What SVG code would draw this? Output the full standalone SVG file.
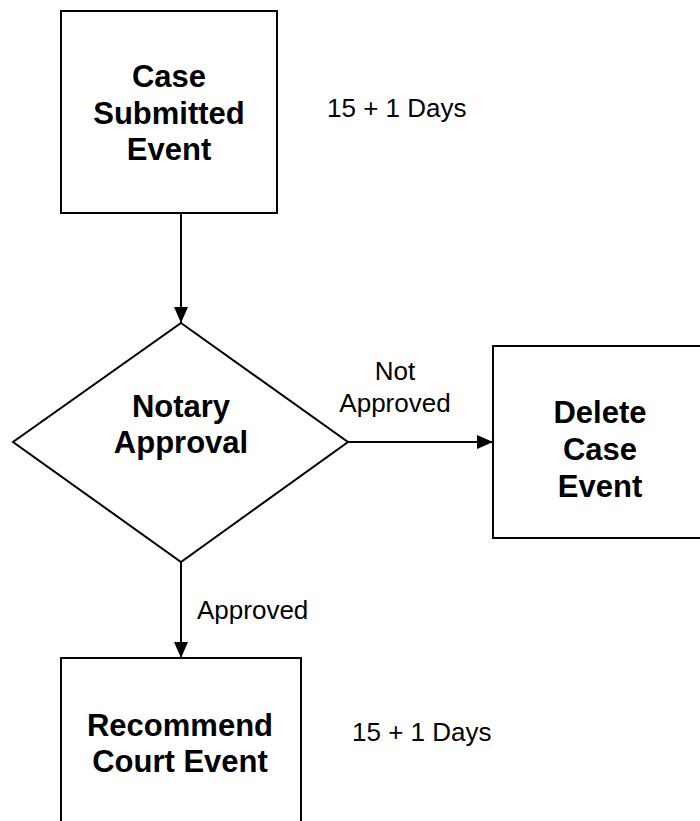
<svg xmlns="http://www.w3.org/2000/svg" width="700" height="821" viewBox="0 0 700 821">
  <style>
    .shape { fill: #ffffff; stroke: #000000; stroke-width: 2; }
    .edge { fill: none; stroke: #000000; stroke-width: 2; }
    .title { font-family: "Liberation Sans", Arial, sans-serif; font-weight: bold; font-size: 31px; text-anchor: middle; fill: #000000; }
    .label { font-family: "Liberation Sans", Arial, sans-serif; font-size: 26px; fill: #000000; }
  </style>
  <defs>
    <marker id="arrow" viewBox="0 0 16 14" refX="16" refY="7" markerWidth="16" markerHeight="14" markerUnits="userSpaceOnUse" orient="auto">
      <path d="M0,0 L16,7 L0,14 Z" fill="#000000"/>
    </marker>
  </defs>
  <rect width="700" height="821" fill="#ffffff"/>

  <!-- connectors -->
  <g id="connectors">
    <line class="edge" x1="181" y1="213" x2="181" y2="323" marker-end="url(#arrow)"/>
    <line class="edge" x1="348" y1="442" x2="493" y2="442" marker-end="url(#arrow)"/>
    <line class="edge" x1="181" y1="562" x2="181" y2="658" marker-end="url(#arrow)"/>
    <text class="label" x="395" y="380" text-anchor="middle">Not</text>
    <text class="label" x="395" y="412" text-anchor="middle">Approved</text>
    <text class="label" x="197" y="619">Approved</text>
  </g>

  <!-- case submitted -->
  <g id="case-submitted">
    <rect class="shape" x="61" y="11" width="216" height="202"/>
    <text class="title" x="169" y="87">Case</text>
    <text class="title" x="169" y="124">Submitted</text>
    <text class="title" x="169" y="160">Event</text>
  </g>
  <text class="label" x="327" y="117">15 + 1 Days</text>

  <!-- notary decision -->
  <g id="notary-approval">
    <polygon class="shape" points="181,323 348,442 181,562 13,442"/>
    <text class="title" x="181" y="417">Notary</text>
    <text class="title" x="181" y="453">Approval</text>
  </g>

  <!-- delete case -->
  <g id="delete-case">
    <rect class="shape" x="493" y="346" width="216" height="192"/>
    <text class="title" x="600" y="423">Delete</text>
    <text class="title" x="600" y="460">Case</text>
    <text class="title" x="600" y="497">Event</text>
  </g>

  <!-- recommend court -->
  <g id="recommend-court">
    <rect class="shape" x="61" y="658" width="240" height="180"/>
    <text class="title" x="180" y="736">Recommend</text>
    <text class="title" x="180" y="772">Court Event</text>
  </g>
  <text class="label" x="352" y="741">15 + 1 Days</text>
</svg>
